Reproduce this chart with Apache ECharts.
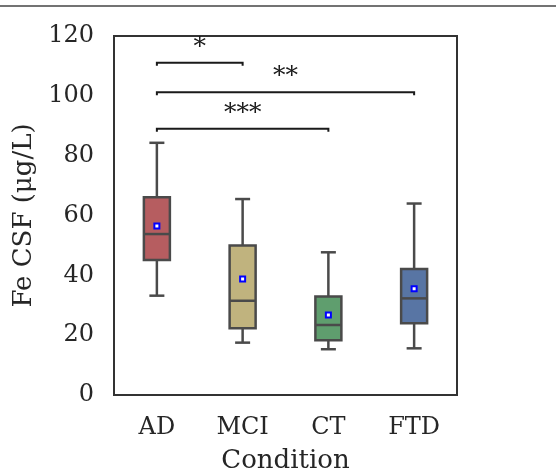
<!DOCTYPE html>
<html>
<head>
<meta charset="utf-8">
<script src="https://cdn.jsdelivr.net/npm/echarts@6/dist/echarts.min.js"></script>
<style>html,body{margin:0;padding:0;background:#fff}#c{width:556px;height:472px}</style>
</head>
<body>
<div id="c"></div>
<script>
var categories = ['AD', 'MCI', 'CT', 'FTD'];
var colors = ['#b65d60', '#c0b37e', '#5f9e6e', '#5875a4'];
// [lower whisker, Q1, median, Q3, upper whisker]
var boxAD  = [33.2, 45.1, 53.8, 66.1, 84.3];
var boxMCI = [17.5, 22.3, 31.5, 50.0, 65.5];
var boxCT  = [15.3, 18.3, 23.4, 32.9, 47.7];
var boxFTD = [15.6, 24.0, 32.3, 42.1, 64.0];
var means = [56.5, 38.8, 26.7, 35.5];
// significance brackets: [from index, to index, y, label]
var brackets = [[0, 1, 111.1, '*'], [0, 3, 101.2, '**'], [0, 2, 89.0, '***']];
var yTicks = [0, 20, 40, 60, 80, 100, 120];

var boxes = [boxAD, boxMCI, boxCT, boxFTD];
var boxData = boxes.map(function (b, i) { return [i].concat(b); });
var font = 'DejaVu Serif';

var chart = echarts.init(document.getElementById('c'));
chart.setOption({
  animation: false,
  backgroundColor: '#fff',
  grid: { left: 114, right: 99, top: 36, bottom: 77, show: true, borderColor: '#333', borderWidth: 2,
    containLabel: false, outerBoundsMode: 'none' },
  xAxis: {
    type: 'category', data: categories,
    name: 'Condition', nameLocation: 'middle', nameGap: 53,
    nameTextStyle: { fontFamily: font, fontSize: 26, color: '#262626' },
    axisLine: { show: true, lineStyle: { color: '#333', width: 2 } },
    axisTick: { show: false },
    axisLabel: { fontFamily: font, fontSize: 24, color: '#262626', margin: 21 }
  },
  yAxis: {
    type: 'value', min: 0, max: 120, interval: 20,
    name: 'Fe CSF (μg/L)', nameLocation: 'middle', nameGap: 77,
    nameTextStyle: { fontFamily: font, fontSize: 26, color: '#262626' },
    axisLine: { show: true, lineStyle: { color: '#333', width: 2 } },
    axisTick: { show: false },
    splitLine: { show: false },
    axisLabel: { fontFamily: font, fontSize: 24, color: '#262626', margin: 20,
      formatter: function (v) { return yTicks.indexOf(v) >= 0 ? String(v) : ''; } }
  },
  graphic: [{
    type: 'line', shape: { x1: 0, y1: 6, x2: 556, y2: 6 },
    style: { stroke: '#444', lineWidth: 1.5 }
  }],
  series: [
    {
      type: 'custom',
      data: boxData,
      encode: { x: 0, y: [1, 2, 3, 4, 5] },
      renderItem: function (params, api) {
        var i = api.value(0);
        var p = function (v) { return api.coord([i, v]); };
        var lw = p(api.value(1)), q1 = p(api.value(2)), md = p(api.value(3)),
            q3 = p(api.value(4)), uw = p(api.value(5));
        var x = lw[0], bw = 26, cw = 15;
        var st = { stroke: '#4a4a4a', lineWidth: 2.5, fill: null };
        return {
          type: 'group',
          children: [
            { type: 'line', shape: { x1: x, y1: uw[1], x2: x, y2: q3[1] }, style: st },
            { type: 'line', shape: { x1: x, y1: q1[1], x2: x, y2: lw[1] }, style: st },
            { type: 'line', shape: { x1: x - cw / 2, y1: uw[1], x2: x + cw / 2, y2: uw[1] }, style: st },
            { type: 'line', shape: { x1: x - cw / 2, y1: lw[1], x2: x + cw / 2, y2: lw[1] }, style: st },
            { type: 'rect', shape: { x: x - bw / 2, y: q3[1], width: bw, height: q1[1] - q3[1] },
              style: { fill: colors[i], stroke: '#4a4a4a', lineWidth: 2.5 } },
            { type: 'line', shape: { x1: x - bw / 2, y1: md[1], x2: x + bw / 2, y2: md[1] }, style: st }
          ]
        };
      },
      z: 2
    },
    {
      type: 'scatter',
      data: means.map(function (m, i) { return [i, m]; }),
      symbol: 'rect', symbolSize: 5,
      itemStyle: { color: '#fff', borderColor: '#0000ff', borderWidth: 2, opacity: 1 },
      z: 5
    },
    {
      type: 'custom',
      data: brackets,
      renderItem: function (params, api) {
        var b = brackets[params.dataIndex];
        var a = api.coord([b[0], b[2]]), c = api.coord([b[1], b[2]]);
        var st = { stroke: '#1a1a1a', lineWidth: 2, fill: null };
        return {
          type: 'group',
          children: [
            { type: 'polyline', shape: { points: [[a[0], a[1] + 3], [a[0], a[1]], [c[0], c[1]], [c[0], c[1] + 3]] }, style: st },
            { type: 'text', style: { text: b[3], x: (a[0] + c[0]) / 2, y: a[1] - 3,
                align: 'center', verticalAlign: 'bottom', fontFamily: font, fontSize: 25, fill: '#1a1a1a' } }
          ]
        };
      },
      z: 4
    }
  ]
});
</script>
</body>
</html>
